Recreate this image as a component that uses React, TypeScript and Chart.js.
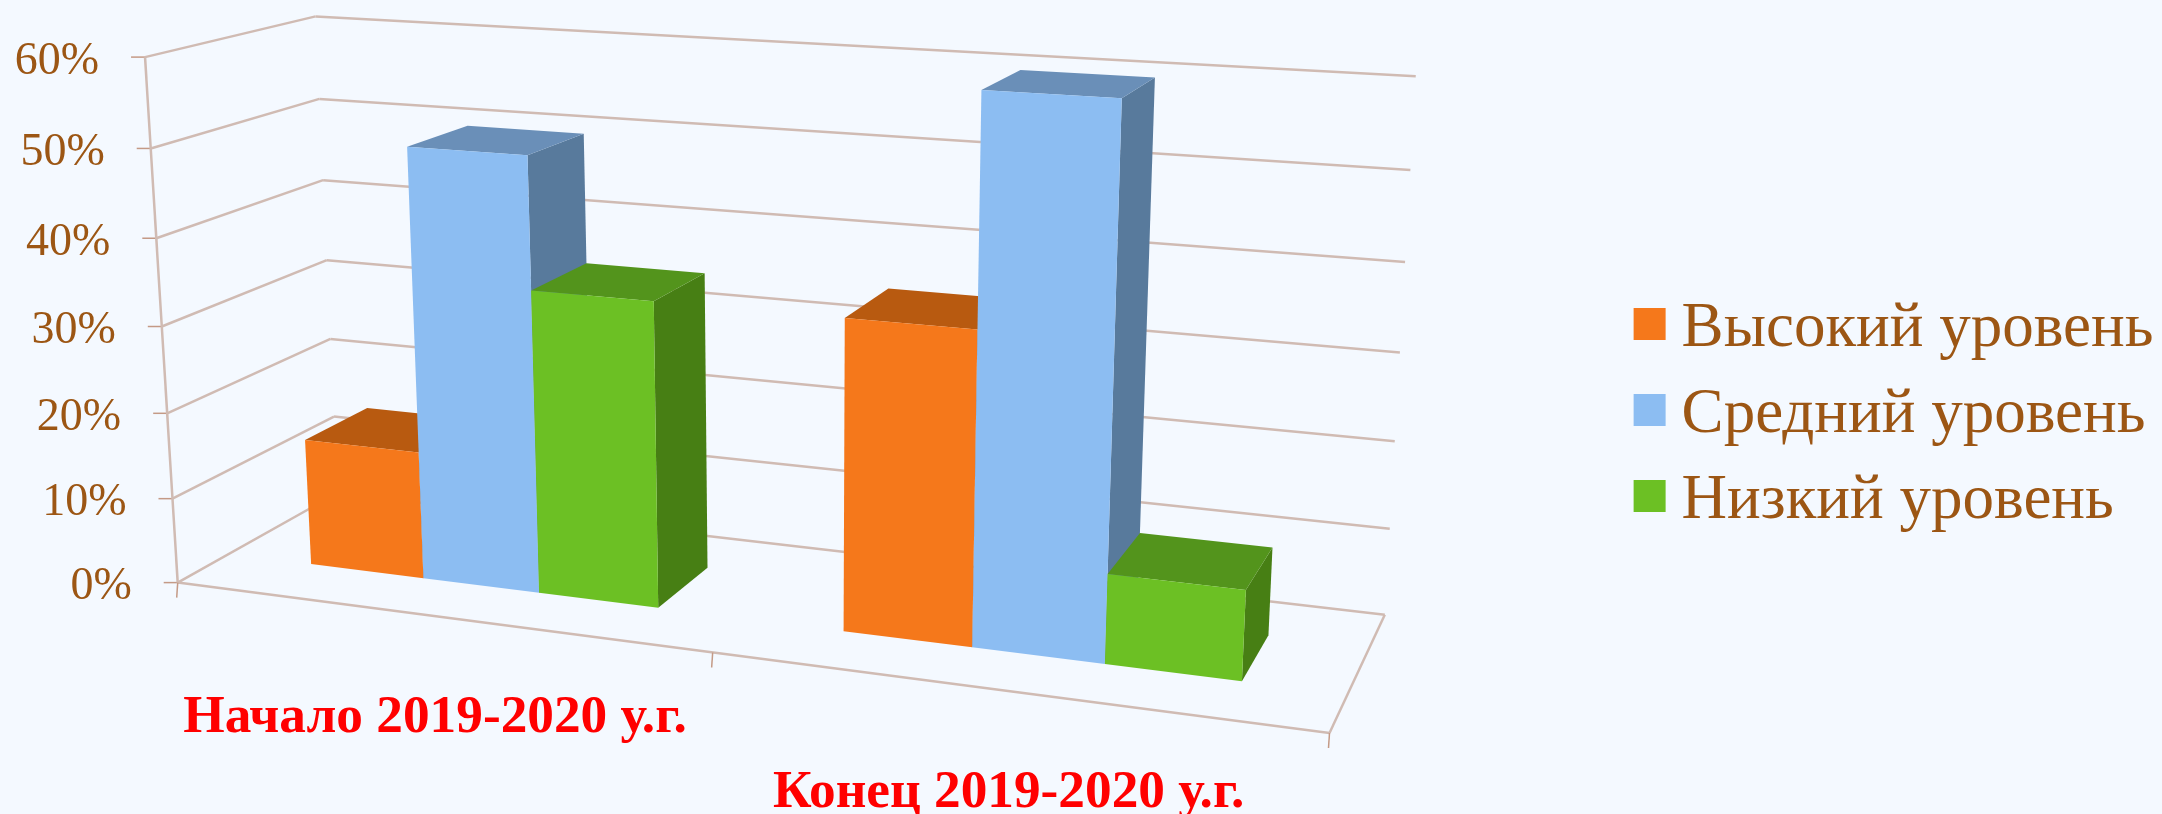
import React, { useEffect, useRef } from "react";
import { Chart, registerables } from "chart.js";

Chart.register(...registerables);

const categories = ["Начало 2019-2020 у.г.", "Конец 2019-2020 у.г."];
const highLevel = [15, 35];
const midLevel = [50, 60];
const lowLevel = [35, 10];
const seriesNames = ["Высокий уровень", "Средний уровень", "Низкий уровень"];
const frontColors = ["#F5781B", "#8CBDF2", "#6CC024"];
const topColors = ["#B85A10", "#6A8FB8", "#53941C"];
const sideColors = ["#9A4C0E", "#587A9C", "#477F14"];
const BG = "#F4F9FF";
const GRID = "#D0BBB3";
const TICK = "#C49A86";
const TEXT = "#9C5614";
const SERIF = "'Liberation Serif'";

// Camera calibration: where the corners of the plot box land on the canvas.
const FLOOR = [[177.7, 582.6], [1329.5, 733], [1384.8, 614.7], [337.5, 493]];
const TOP_FRONT_LEFT = [147, 57.1];
const TOP_BACK_LEFT = [315.5, 14];
const TOP_BACK_RIGHT = [1416, 71.7];
const DEPTH_NEAR = 0.3;
const DEPTH_FAR = 0.7;
const LEGEND_TEXT_DROP = 5;

function makeProjection() {
  const [[x0, y0], [x1, y1], [x2, y2], [x3, y3]] = FLOOR;
  const dx1 = x1 - x2, dx2 = x3 - x2, sx = x0 - x1 + x2 - x3;
  const dy1 = y1 - y2, dy2 = y3 - y2, sy = y0 - y1 + y2 - y3;
  const det = dx1 * dy2 - dx2 * dy1;
  const g = (sx * dy2 - dx2 * sy) / det;
  const h = (dx1 * sy - sx * dy1) / det;
  const pu = [x1 - x0 + g * x1, y1 - y0 + g * y1, g];
  const pd = [x3 - x0 + h * x3, y3 - y0 + h * y3, h];
  const p0 = [x0, y0, 1];
  // vertical vanishing point, from the two back corners of the box
  const a = (TOP_BACK_LEFT[0] - x3) / (TOP_BACK_LEFT[1] - y3);
  const b = (TOP_BACK_RIGHT[0] - x2) / (TOP_BACK_RIGHT[1] - y2);
  const vy = (x2 - b * y2 - x3 + a * y3) / (a - b);
  const vx = x3 + a * (vy - y3);
  const k = (TOP_FRONT_LEFT[1] - y0) / (vy - TOP_FRONT_LEFT[1]);
  const pw = [k * vx, k * vy, k];
  return (u: number, w: number, d: number): [number, number] => {
    const X = pu[0] * u + pw[0] * w + pd[0] * d + p0[0];
    const Y = pu[1] * u + pw[1] * w + pd[1] * d + p0[1];
    const Z = pu[2] * u + pw[2] * w + pd[2] * d + p0[2];
    return [X / Z, Y / Z];
  };
}

const box3d = {
  id: "box3d",
  beforeDatasetsDraw(chart: any) {
    const { ctx, chartArea: area, scales } = chart;
    const P = makeProjection();
    const U = (px: number) => (px - area.left) / area.width;
    const W = (py: number) => (area.bottom - py) / area.height;
    const line = (a: number[], b: number[], color = GRID, width = 2.5) => {
      ctx.strokeStyle = color;
      ctx.lineWidth = width;
      ctx.beginPath();
      ctx.moveTo(a[0], a[1]);
      ctx.lineTo(b[0], b[1]);
      ctx.stroke();
    };
    ctx.save();
    ctx.font = `46px ${SERIF}`;
    ctx.fillStyle = TEXT;
    ctx.textAlign = "right";
    ctx.textBaseline = "alphabetic";
    for (const t of scales.y.ticks) {
      const w = W(scales.y.getPixelForValue(t.value));
      const a = P(0, w, 0);
      line([a[0] - 14, a[1]], a, TICK, 1.5);
      line(a, P(0, w, 1));
      line(P(0, w, 1), P(1, w, 1));
      ctx.fillText(t.label, a[0] - 46, a[1] + 16.5);
    }
    line(P(0, 0, 0), P(0, 1, 0));
    line(P(0, 0, 0), P(1, 0, 0));
    line(P(1, 0, 0), P(1, 0, 1));
    for (const u of [0, 0.5, 1]) {
      const a = P(u, 0, 0);
      line(a, [a[0] - 1, a[1] + 15], TICK, 1.5);
    }
    ctx.font = `bold 53.3px ${SERIF}`;
    ctx.fillStyle = "#FF0000";
    ctx.textAlign = "center";
    chart.data.labels.forEach((label: string, i: number) => {
      const a = P(U(scales.x.getPixelForValue(i)), 0, 0);
      ctx.fillText(label, a[0] - 1, a[1] + 116);
    });
    const quad = (pts: number[][], fill: string) => {
      ctx.fillStyle = fill;
      ctx.beginPath();
      pts.forEach((p, i) => (i ? ctx.lineTo(p[0], p[1]) : ctx.moveTo(p[0], p[1])));
      ctx.closePath();
      ctx.fill();
    };
    chart.data.labels.forEach((_: string, i: number) => {
      chart.data.datasets.forEach((_d: any, s: number) => {
        const bar = chart.getDatasetMeta(s).data[i];
        const u0 = U(bar.x - bar.width / 2);
        const u1 = U(bar.x + bar.width / 2);
        const w1 = W(bar.y);
        const n = DEPTH_NEAR, f = DEPTH_FAR;
        quad([P(u1, 0, n), P(u1, 0, f), P(u1, w1, f), P(u1, w1, n)], sideColors[s]);
        quad([P(u0, w1, n), P(u1, w1, n), P(u1, w1, f), P(u0, w1, f)], topColors[s]);
        quad([P(u0, 0, n), P(u1, 0, n), P(u1, w1, n), P(u0, w1, n)], frontColors[s]);
      });
    });
    ctx.restore();
    return false;
  },
};

// The legend text sits a little lower than its swatch, and the swatch is wider
// than the gap Chart.js leaves, so the swatches are painted from the legend's own
// layout on the page background before the text goes on top of nothing else.
const swatches = {
  id: "swatches",
  afterDraw(chart: any) {
    const { ctx, legend } = chart;
    ctx.save();
    legend.legendHitBoxes.forEach((b: any, i: number) => {
      const y = b.top + (b.height - 32) / 2;
      ctx.fillStyle = BG;
      ctx.fillRect(b.left - 1, y - 1, 34, 34);
      ctx.fillStyle = frontColors[i];
      ctx.fillRect(b.left, y - LEGEND_TEXT_DROP, 32, 32);
    });
    ctx.restore();
  },
};

export default function App() {
  const ref = useRef<HTMLCanvasElement>(null);
  useEffect(() => {
    const chart = new Chart(ref.current!, {
      type: "bar",
      data: {
        labels: categories,
        datasets: [highLevel, midLevel, lowLevel].map((data, i) => ({
          label: seriesNames[i],
          data,
          backgroundColor: frontColors[i],
          barPercentage: 1,
          categoryPercentage: 0.667,
        })),
      },
      plugins: [box3d, swatches],
      options: {
        animation: false,
        responsive: false,
        devicePixelRatio: 1,
        layout: { padding: { right: -1.5, top: 16, bottom: 0 } },
        scales: {
          x: { display: false },
          y: {
            display: false,
            min: 0,
            max: 60,
            ticks: { stepSize: 10, callback: (v: any) => `${v}%` },
          },
        },
        plugins: {
          tooltip: { enabled: false },
          legend: {
            position: "right",
            labels: {
              boxWidth: 16.5,
              boxHeight: 32,
              padding: 23,
              color: TEXT,
              font: { family: SERIF, size: 63 },
            },
          },
        },
      } as any,
    });
    return () => chart.destroy();
  }, []);
  return (
    <div style={{ position: "fixed", left: 0, top: 0, width: 2162, height: 814, background: BG, overflow: "hidden" }}>
      <canvas ref={ref} width={2162} height={814} style={{ display: "block" }} />
    </div>
  );
}
